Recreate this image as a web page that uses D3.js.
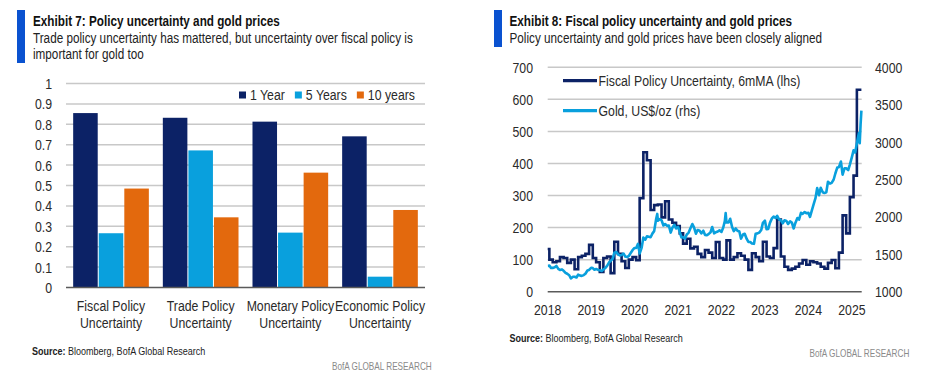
<!DOCTYPE html>
<html><head><meta charset="utf-8">
<script src="https://cdn.jsdelivr.net/npm/d3@7"></script>
<style>
body{margin:0;background:#fff;}
svg{display:block;font-family:"Liberation Sans",Arial,sans-serif;}
</style></head><body>
<svg id="chart" width="927" height="380"></svg>
<script>
// ---------- Exhibit 7 data ----------
const categories = ["Fiscal Policy Uncertainty","Trade Policy Uncertainty","Monetary Policy Uncertainty","Economic Policy Uncertainty"];
const seriesNames = ["1 Year","5 Years","10 years"];
const oneYear   = [0.855, 0.832, 0.813, 0.741];
const fiveYears = [0.266, 0.672, 0.269, 0.053];
const tenYears  = [0.485, 0.344, 0.563, 0.380];
const barTicks  = [0,0.1,0.2,0.3,0.4,0.5,0.6,0.7,0.8,0.9,1];

// ---------- Exhibit 8 data ----------
const yearTicks = [2018,2019,2020,2021,2022,2023,2024,2025];
const fpuTicks  = [0,100,200,300,400,500,600,700];
const goldTicks = [1000,1500,2000,2500,3000,3500,4000];
// Fiscal Policy Uncertainty, 6mMA, monthly from Jan 2018
const fpuValues = [133,100,92,95,108,105,90,100,70,108,112,118,
  146,105,92,62,105,110,58,156,118,95,74,100,
  108,98,292,435,410,255,270,272,232,282,225,215,
  205,182,150,165,135,140,118,108,130,122,105,155,
  105,100,160,100,108,120,112,100,68,120,108,95,
  156,110,105,136,225,110,78,68,72,78,88,99,
  84,95,92,88,78,72,90,99,73,122,238,182,
  295,362,630];
// Gold, US$/oz
const gold = [
 ["2018-02-01",1345],["2018-02-15",1350],["2018-03-01",1318],["2018-03-15",1318],["2018-04-01",1327],["2018-04-15",1345],
 ["2018-05-01",1305],["2018-05-15",1290],["2018-06-01",1298],["2018-06-15",1280],["2018-07-01",1252],["2018-07-15",1240],
 ["2018-08-01",1220],["2018-08-15",1178],["2018-09-01",1200],["2018-09-15",1200],["2018-10-01",1190],["2018-10-15",1228],
 ["2018-11-01",1215],["2018-11-15",1212],["2018-12-01",1222],["2018-12-15",1240],
 ["2019-01-01",1284],["2019-01-15",1291],["2019-02-01",1320],["2019-02-15",1315],["2019-03-01",1294],["2019-03-15",1303],
 ["2019-04-01",1291],["2019-04-15",1286],["2019-05-01",1277],["2019-05-15",1297],["2019-06-01",1318],["2019-06-15",1345],
 ["2019-07-01",1390],["2019-07-15",1412],["2019-08-01",1440],["2019-08-15",1520],["2019-09-01",1530],["2019-09-15",1500],
 ["2019-10-01",1485],["2019-10-15",1490],["2019-11-01",1510],["2019-11-15",1470],["2019-12-01",1463],["2019-12-15",1478],
 ["2020-01-01",1520],["2020-01-15",1555],["2020-02-01",1585],["2020-02-15",1585],["2020-03-01",1640],["2020-03-15",1510],
 ["2020-04-01",1590],["2020-04-15",1725],["2020-05-01",1695],["2020-05-15",1740],["2020-06-01",1735],["2020-06-15",1728],
 ["2020-07-01",1780],["2020-07-15",1810],["2020-08-01",1975],["2020-08-10",2040],["2020-08-15",1950],["2020-09-01",1970],["2020-09-15",1955],
 ["2020-10-01",1885],["2020-10-15",1905],["2020-11-01",1880],["2020-11-15",1885],["2020-12-01",1790],["2020-12-15",1855],
 ["2021-01-01",1895],["2021-01-15",1845],["2021-02-01",1865],["2021-02-15",1800],["2021-03-01",1725],["2021-03-15",1730],
 ["2021-04-01",1710],["2021-04-15",1765],["2021-05-01",1790],["2021-05-15",1845],["2021-06-01",1905],["2021-06-15",1860],
 ["2021-07-01",1775],["2021-07-15",1825],["2021-08-01",1815],["2021-08-15",1780],["2021-09-01",1815],["2021-09-15",1760],
 ["2021-10-01",1755],["2021-10-15",1770],["2021-11-01",1795],["2021-11-15",1865],["2021-12-01",1780],["2021-12-15",1795],
 ["2022-01-01",1805],["2022-01-15",1820],["2022-02-01",1800],["2022-02-15",1855],["2022-03-01",1945],["2022-03-08",2050],
 ["2022-03-15",1925],["2022-04-01",1925],["2022-04-15",1975],["2022-05-01",1865],["2022-05-15",1810],["2022-06-01",1845],
 ["2022-06-15",1815],["2022-07-01",1805],["2022-07-15",1710],["2022-08-01",1765],["2022-08-15",1775],["2022-09-01",1705],
 ["2022-09-15",1665],["2022-10-01",1665],["2022-10-15",1645],["2022-11-01",1640],["2022-11-15",1775],["2022-12-01",1780],
 ["2022-12-15",1790],
 ["2023-01-01",1825],["2023-01-15",1920],["2023-02-01",1950],["2023-02-15",1835],["2023-03-01",1840],["2023-03-15",1920],
 ["2023-04-01",1980],["2023-04-15",2005],["2023-05-01",1985],["2023-05-15",2015],["2023-06-01",1965],["2023-06-15",1955],
 ["2023-07-01",1915],["2023-07-15",1955],["2023-08-01",1945],["2023-08-15",1905],["2023-09-01",1940],["2023-09-15",1925],
 ["2023-10-01",1845],["2023-10-15",1920],["2023-11-01",1985],["2023-11-15",1965],["2023-12-01",2055],["2023-12-15",2040],
 ["2024-01-01",2065],["2024-01-15",2050],["2024-02-01",2055],["2024-02-15",2000],["2024-03-01",2085],["2024-03-15",2160],
 ["2024-04-01",2250],["2024-04-15",2385],["2024-05-01",2290],["2024-05-15",2390],["2024-06-01",2330],["2024-06-15",2320],
 ["2024-07-01",2330],["2024-07-15",2470],["2024-08-01",2445],["2024-08-15",2455],["2024-09-01",2500],["2024-09-15",2580],
 ["2024-10-01",2660],["2024-10-15",2665],["2024-11-01",2740],["2024-11-15",2565],["2024-12-01",2650],["2024-12-15",2650],
 ["2025-01-01",2625],["2025-01-15",2700],["2025-02-01",2800],["2025-02-15",2890],["2025-03-01",2860],["2025-03-15",2985],
 ["2025-04-01",3120],["2025-04-08",2985],["2025-04-15",3230],["2025-04-22",3420]
];

// ---------- drawing ----------
const svg = d3.select("#chart");
svg.append("rect").attr("width",927).attr("height",380).attr("fill","#fff");

const colors = ["#0c2266","#09a0dd","#e3690d"];
const gridColor = "#c8c8c8", axisColor = "#5a5a5a", textColor = "#2a2a2a";
const SX = 0.82; // narrow typeface look

function txt(g, x, y, s, o={}){
  const t = g.append("text").attr("transform",`translate(${x},${y}) scale(${SX},1)`)
    .attr("font-size",o.size||15).attr("fill",o.fill||textColor)
    .attr("text-anchor",o.anchor||"start");
  if(o.dy) t.attr("dy",o.dy);
  if(o.weight) t.attr("font-weight",o.weight);
  if(s!==null) t.text(s);
  return t;
}

function header(barX, textX, title, subLines, barH){
  svg.append("rect").attr("x",barX).attr("y",10).attr("width",8).attr("height",barH).attr("fill","#0a52d0");
  txt(svg, textX, 26, title, {size:14.3, weight:"bold", fill:"#111"});
  subLines.forEach((s,i)=> txt(svg, textX, 43+i*16.3, s, {size:14.3, fill:"#222"}));
}
function footer(x, y, rightX, y2){
  const t = txt(svg, x, y, null, {size:11, fill:"#222"});
  t.append("tspan").attr("font-weight","bold").text("Source:");
  t.append("tspan").text(" Bloomberg, BofA Global Research");
  txt(svg, rightX, y2, "BofA GLOBAL RESEARCH", {size:10, fill:"#8a8a8a", anchor:"end"});
}

// ===== Exhibit 7 =====
header(17, 33, "Exhibit 7: Policy uncertainty and gold prices",
  ["Trade policy uncertainty has mattered, but uncertainty over fiscal policy is","important for gold too"], 53);

const L = {x0:66, x1:425, yTop:83.5, yBot:287.5};
const yB = d3.scaleLinear().domain([0,1]).range([L.yBot, L.yTop]);
const x0 = d3.scaleBand().domain(categories).range([L.x0, L.x1]).paddingInner(0.156).paddingOuter(0.08);
const x1 = d3.scaleBand().domain(seriesNames).range([0, x0.bandwidth()]).paddingInner(0.04);
const barSeries = [oneYear, fiveYears, tenYears];

const gL = svg.append("g");
gL.selectAll("line.grid").data(barTicks.filter(t=>t>0)).join("line")
  .attr("x1",L.x0).attr("x2",L.x1).attr("y1",d=>yB(d)).attr("y2",d=>yB(d))
  .attr("stroke",gridColor).attr("stroke-width",1.5);
barTicks.forEach(d=> txt(gL, 52, yB(d), d3.format("~g")(d), {anchor:"end", dy:"0.36em"}));

categories.forEach((c,ci)=>{
  seriesNames.forEach((s,si)=>{
    const v = barSeries[si][ci];
    gL.append("rect").attr("x",x0(c)+x1(s)).attr("width",x1.bandwidth())
      .attr("y",yB(v)).attr("height",yB(0)-yB(v)).attr("fill",colors[si]);
  });
  const words = c.split(" ");
  const lines = [words.slice(0,-1).join(" "), words[words.length-1]];
  lines.forEach((ln,li)=> txt(gL, x0(c)+x0.bandwidth()/2, 311+li*17, ln, {anchor:"middle"}));
});
gL.append("line").attr("x1",L.x0).attr("x2",L.x1).attr("y1",yB(0)).attr("y2",yB(0))
  .attr("stroke",axisColor).attr("stroke-width",1.5);

// legend
let lx = 239;
seriesNames.forEach((s,si)=>{
  gL.append("rect").attr("x",lx).attr("y",91.5).attr("width",7).attr("height",7).attr("fill",colors[si]);
  const t = txt(gL, lx+11, 99.5, s);
  lx += 11 + t.node().getComputedTextLength()*SX + 10;
});
footer(32, 355, 431.7, 370);

// ===== Exhibit 8 =====
header(494, 509.5, "Exhibit 8: Fiscal policy uncertainty and gold prices",
  ["Policy uncertainty and gold prices have been closely aligned"], 37);

const R = {x0:547.7, x1:861.7, yTop:67.3, yBot:291.7};
const parse = d3.timeParse("%Y-%m-%d");
const xT = d3.scaleTime().domain([new Date(2018,1,1), new Date(2025,3,22)]).range([R.x0, 861.4]);
const yL = d3.scaleLinear().domain([0,700]).range([R.yBot, R.yTop]);
const yR = d3.scaleLinear().domain([1000,4000]).range([R.yBot, R.yTop]);

const gR = svg.append("g");
gR.selectAll("line.grid").data(fpuTicks.filter(t=>t>0)).join("line")
  .attr("x1",R.x0).attr("x2",R.x1).attr("y1",d=>yL(d)).attr("y2",d=>yL(d))
  .attr("stroke",gridColor).attr("stroke-width",1.5);
fpuTicks.forEach(d=> txt(gR, 533, yL(d), String(d), {anchor:"end", dy:"0.36em"}));
goldTicks.forEach(d=> txt(gR, 875, yR(d), String(d), {anchor:"start", dy:"0.36em"}));
const labelShift = xT(new Date(2018,1,1)) - xT(new Date(2018,0,1));
yearTicks.forEach(d=> txt(gR, xT(new Date(d,0,1)) + labelShift, 315, String(d), {anchor:"middle"}));

svg.append("clipPath").attr("id","clipR").append("rect")
  .attr("x",R.x0).attr("y",0).attr("width",R.x1-R.x0+2).attr("height",380);

const fpuPts = fpuValues.map((v,i)=>({date:new Date(2018,i,15), v}));
fpuPts.push({date:xT.domain()[1], v:fpuValues[fpuValues.length-1]});
const lineFpu = d3.line().x(d=>xT(d.date)).y(d=>yL(d.v)).curve(d3.curveStepAfter);
const lineGold = d3.line().x(d=>xT(parse(d[0]))).y(d=>yR(d[1]));

const plot = gR.append("g").attr("clip-path","url(#clipR)");
plot.append("path").datum(fpuPts).attr("d",lineFpu).attr("fill","none")
  .attr("stroke",colors[0]).attr("stroke-width",2.6).attr("stroke-linejoin","miter");
plot.append("path").datum(gold).attr("d",lineGold).attr("fill","none")
  .attr("stroke",colors[1]).attr("stroke-width",2.6).attr("stroke-linejoin","round");

gR.append("line").attr("x1",R.x0).attr("x2",R.x1).attr("y1",yL(0)).attr("y2",yL(0))
  .attr("stroke",axisColor).attr("stroke-width",1.5);

// legend
const legR = [["Fiscal Policy Uncertainty, 6mMA (lhs)", colors[0], 80.7],["Gold, US$/oz (rhs)", colors[1], 110.7]];
legR.forEach(([s,col,ly])=>{
  gR.append("line").attr("x1",563).attr("x2",597).attr("y1",ly).attr("y2",ly).attr("stroke",col).attr("stroke-width",3.2);
  txt(gR, 598.5, ly+5.3, s);
});
footer(509.5, 342, 909.3, 357);
</script>
</body></html>
